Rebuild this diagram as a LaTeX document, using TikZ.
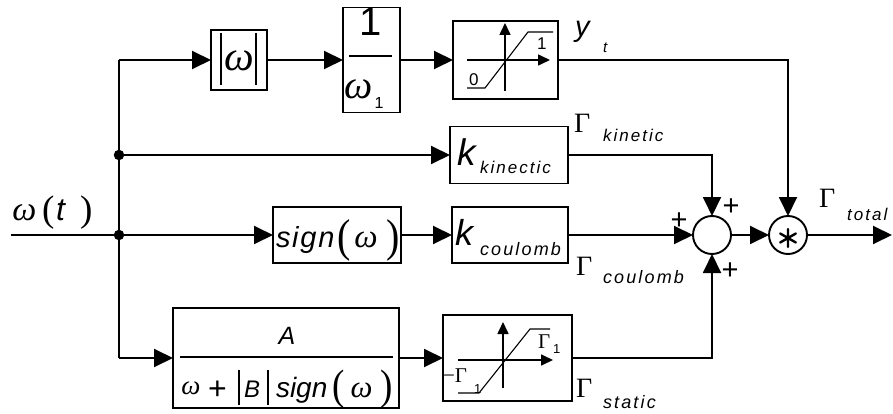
\documentclass[tikz,border=0pt]{standalone}
\usepackage{fontspec}
\setmainfont{Liberation Sans}
\newfontfamily\gk{Liberation Serif}
\newfontfamily\spc{Liberation Sans}[LetterSpace=12]
\newfontfamily\spcb{Liberation Sans}[LetterSpace=6]
\usepackage{graphicx}
\usetikzlibrary{arrows.meta}
\newcommand\fs[1]{\fontsize{#1}{#1}\selectfont}
\newcommand\mypar[2]{\scalebox{1}[1.15]{\gk\fs{#1}#2}}
\begin{document}
\begin{tikzpicture}[x=1pt,y=-1pt,line width=1.9pt,
  blk/.style={draw,rectangle,inner sep=0pt,outer sep=0pt},
  sj/.style={draw,circle,minimum size=38pt,inner sep=0pt,outer sep=0pt},
  arr/.style={-{Triangle[length=19pt,width=18pt]}},
  sarr/.style={-{Triangle[length=12pt,width=11pt]},line width=1.6pt},
  icon/.style={line width=1.1pt},
  lbl/.style={inner sep=0pt,outer sep=0pt,anchor=base west},
  ctr/.style={inner sep=0pt,outer sep=0pt,anchor=center},
  dotn/.style={circle,fill,minimum size=10.5pt,inner sep=0pt}]
\useasboundingbox (0,0) rectangle (893,414);

% blocks
\node[blk,minimum width=56pt,minimum height=60pt] (abs) at (239,60) {};
\node[blk,minimum width=57pt,minimum height=105pt] (frac) at (371.5,60) {};
\node[blk,minimum width=105pt,minimum height=78pt] (sat1) at (505.5,60) {};
\node[blk,minimum width=118pt,minimum height=57pt] (kkin) at (509,155) {};
\node[blk,minimum width=128pt,minimum height=56pt] (sgn) at (337,235) {};
\node[blk,minimum width=116pt,minimum height=56pt] (kcou) at (510,235) {};
\node[blk,minimum width=226pt,minimum height=100pt] (abox) at (286,358) {};
\node[blk,minimum width=129pt,minimum height=86pt] (sat2) at (507.5,358) {};
\node[sj] (sum) at (712,235) {};
\node[sj] (mul) at (788,235) {};

% coordinates
\coordinate (in) at (11,235);
\coordinate (b1) at (119,60);
\coordinate (b2) at (119,155);
\coordinate (b3) at (119,235);
\coordinate (b4) at (119,358);
\coordinate (out) at (892,235);

% connectors
\draw (in) -- (b3);
\draw (b1) -- (b4);
\draw[arr] (b1) -- (abs.west);
\draw[arr] (abs.east) -- (frac.west);
\draw[arr] (frac.east) -- (sat1.west);
\draw[arr] (b2) -- (kkin.west);
\draw[arr] (b3) -- (sgn.west);
\draw[arr] (sgn.east) -- (kcou.west);
\draw[arr] (b4) -- (abox.west);
\draw[arr] (abox.east) -- (sat2.west);
\draw[arr] (sat1.east) -| (mul.north);
\draw[arr] (kkin.east) -| (sum.north);
\draw[arr] (kcou.east) -- (sum.west);
\draw[arr] (sat2.east) -| (sum.south);
\draw[arr] (sum.east) -- (mul.west);
\draw[arr] (mul.east) -- (out);
\node[dotn] (d2) at (b2) {};
\node[dotn] (d3) at (b3) {};

% asterisk
\draw[line width=2.4pt,line cap=round] (788,229) -- (788,247)
  (780.2,233.5) -- (795.8,242.5) (780.2,242.5) -- (795.8,233.5);

% |omega|
\draw (221,33) -- (221,85) (256,33) -- (256,85);
\node[ctr] (absw) at (239,61) {\gk\itshape\fs{42}ω};
% 1/omega1
\draw[line width=1.6pt] (349,56) -- (392,56);
\node[ctr] (one) at (371,22) {\fs{40}1};
\node[ctr] (fw) at (359,89) {\gk\itshape\fs{40}ω};
\node[ctr] (fw1) at (379,102.5) {\fs{16}1};

% saturation 1
\draw[sarr] (505,91) -- (505,23);
\draw[sarr] (467,60) -- (550,60);
\draw[icon] (467,88) -- (485,88) -- (528,32) -- (553,32);
\node[lbl] (s1a) at (537,50) {\fs{17}1};
\node[lbl] (s1b) at (469,86) {\fs{17}0};

% saturation 2
\draw[sarr] (503,388) -- (503,322);
\draw[sarr] (458,360) -- (553,360);
\draw[icon] (458,393) -- (479,393) -- (530,329) -- (550,329);
\node[lbl] (s2a) at (538,348) {\gk\fs{21}Γ};
\node[lbl] (s2b) at (553,353) {\fs{13}1};
\node[lbl] (s2c) at (443,382) {\gk\fs{21}−Γ};
\node[lbl] (s2d) at (474,393) {\fs{13}1};

% k blocks
\node[lbl] (kk) at (457,165) {\itshape\fs{37}k};
\node[lbl] (kks) at (480,173) {\spc\itshape\fs{17}kinectic};
\node[lbl] (kc) at (455,245) {\itshape\fs{36}k};
\node[lbl] (kcs) at (480,255) {\spc\itshape\fs{18}coulomb};

% sign block
\node[lbl] (sg1) at (276,247) {\spcb\itshape\fs{29}sign};
\node[lbl] (sg2) at (337,251.7) {\mypar{40}{(}};
\node[ctr] (sg3) at (366,240) {\gk\itshape\fs{33}ω};
\node[lbl] (sg4) at (386,251.7) {\mypar{40}{)}};

% A block
\node[ctr] (aa) at (287,336) {\itshape\fs{25}A};
\draw[line width=1.6pt] (180,357) -- (393,357);
\node[ctr] (ad1) at (191,388) {\gk\itshape\fs{27}ω};
\node[ctr] (ad2) at (217.5,390) {\fs{32}+};
\draw (239,370) -- (239,405) (268,370) -- (268,405);
\node[lbl] (ad3) at (244,397) {\itshape\fs{24}B};
\node[lbl] (ad4) at (276,397) {\itshape\fs{28}sign};
\node[lbl] (ad5) at (332,399.4) {\mypar{37}{(}};
\node[ctr] (ad6) at (361.5,390) {\gk\itshape\fs{31}ω};
\node[lbl] (ad7) at (380,399.4) {\mypar{37}{)}};

% input label
\node[ctr] (wt1) at (24.5,212.5) {\gk\itshape\fs{34}ω};
\node[lbl] (wt2) at (42,221) {\gk\fs{37}(};
\node[lbl] (wt3) at (56,220) {\itshape\fs{32}t};
\node[lbl] (wt4) at (80,221) {\gk\fs{37})};

% signal labels
\node[lbl] (yt) at (575,37) {\itshape\fs{29}y};
\node[lbl] (yts) at (603,53) {\itshape\fs{15}t};
\node[lbl] (gk1) at (574,133) {\gk\fs{28}Γ};
\node[lbl] (gk2) at (603,142) {\spc\itshape\fs{17}kinetic};
\node[lbl] (gc1) at (576,275) {\gk\fs{28}Γ};
\node[lbl] (gc2) at (603,283) {\spc\itshape\fs{18}coulomb};
\node[lbl] (gs1) at (576,397) {\gk\fs{28}Γ};
\node[lbl] (gs2) at (603,408) {\spc\itshape\fs{18}static};
\node[lbl] (gt1) at (819,207) {\gk\fs{28}Γ};
\node[lbl] (gt2) at (847,220) {\spc\itshape\fs{17}total};

% plus signs
\node[lbl,anchor=base] (p1) at (731,215) {\fs{29}+};
\node[lbl,anchor=base] (p2) at (679,229) {\fs{29}+};
\node[lbl,anchor=base] (p3) at (730,279) {\fs{29}+};
\end{tikzpicture}
\end{document}
